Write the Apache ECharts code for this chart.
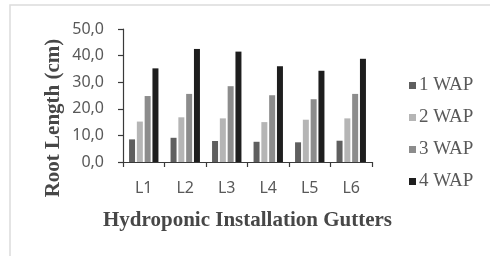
<!DOCTYPE html>
<html>
<head>
<meta charset="utf-8">
<script src="https://cdn.jsdelivr.net/npm/echarts@6/dist/echarts.min.js"></script>
<style>
  html, body { margin: 0; padding: 0; background: #fff; }
  #chart { width: 490px; height: 256px; }
</style>
</head>
<body>
<div id="chart"></div>
<script>
// categories (gutters)
const categories = ['L1', 'L2', 'L3', 'L4', 'L5', 'L6']
// root length per week after planting (cm)
const wap1 = [8.5, 9.1, 7.9, 7.6, 7.4, 8.0]
const wap2 = [15.2, 16.8, 16.4, 15.0, 15.9, 16.4]
const wap3 = [24.8, 25.6, 28.5, 25.1, 23.6, 25.6]
const wap4 = [35.2, 42.5, 41.5, 36.0, 34.3, 38.8]
const seriesNames = ['1 WAP', '2 WAP', '3 WAP', '4 WAP']
const seriesColors = ['#5f5f5f', '#b5b5b5', '#8c8c8c', '#1e1e1e']

const myechart = echarts.init(document.getElementById('chart'))

const serif = '"Liberation Serif", "Times New Roman", serif'
const sans = '"Noto Sans", "Open Sans", sans-serif'

const option = {
  animation: false,
  graphic: [{
    // 外框
    type: 'rect',
    shape: { x: 10, y: 5, width: 490, height: 270 },
    style: { fill: 'none', stroke: '#dcdcdc', lineWidth: 1.5 },
    silent: true
  }, {
    // y轴标题 (sits lower than the plot centre in the original)
    type: 'text',
    x: 54,
    y: 118,
    rotation: Math.PI / 2,
    style: {
      text: 'Root Length (cm)',
      font: 'bold 21px ' + serif,
      fill: '#474747',
      align: 'center',
      verticalAlign: 'middle'
    },
    silent: true
  }],
  legend: {
    orient: 'vertical',
    left: 404,
    top: 71,
    itemWidth: 7,
    itemHeight: 7,
    itemGap: 13,
    icon: 'rect',
    data: seriesNames,
    textStyle: {
      fontFamily: serif,
      fontSize: 19,
      color: '#595959',
      padding: [0, 0, 0, -2]
    }
  },
  grid: {
    left: 123,
    right: 118,
    top: 29,
    bottom: 94
  },
  xAxis: {
    type: 'category',
    data: categories,
    name: 'Hydroponic Installation Gutters',
    nameLocation: 'middle',
    nameGap: 48,
    nameTextStyle: {
      fontFamily: serif,
      fontWeight: 'bold',
      fontSize: 21,
      color: '#474747'
    },
    axisLine: { lineStyle: { color: '#3a3a3a', width: 1.2 } },
    axisTick: { show: true, length: 5, lineStyle: { color: '#3a3a3a', width: 1.2 } },
    axisLabel: {
      margin: 18,
      fontFamily: sans,
      fontSize: 16,
      color: '#595959'
    }
  },
  yAxis: {
    type: 'value',
    min: 0,
    max: 50,
    interval: 10,
    splitLine: { show: false },
    axisLine: { show: true, lineStyle: { color: '#3a3a3a', width: 1.2 } },
    axisTick: { show: true, length: 5, lineStyle: { color: '#3a3a3a', width: 1.2 } },
    axisLabel: {
      margin: 19,
      fontFamily: sans,
      fontSize: 16,
      color: '#595959',
      formatter: v => v.toFixed(1).replace('.', ',')
    }
  },
  series: [wap1, wap2, wap3, wap4].map((d, i) => ({
    name: seriesNames[i],
    type: 'bar',
    data: d,
    barWidth: 6,
    barGap: '30%',
    itemStyle: { color: seriesColors[i] }
  }))
}
myechart.setOption(option)
</script>
</body>
</html>
